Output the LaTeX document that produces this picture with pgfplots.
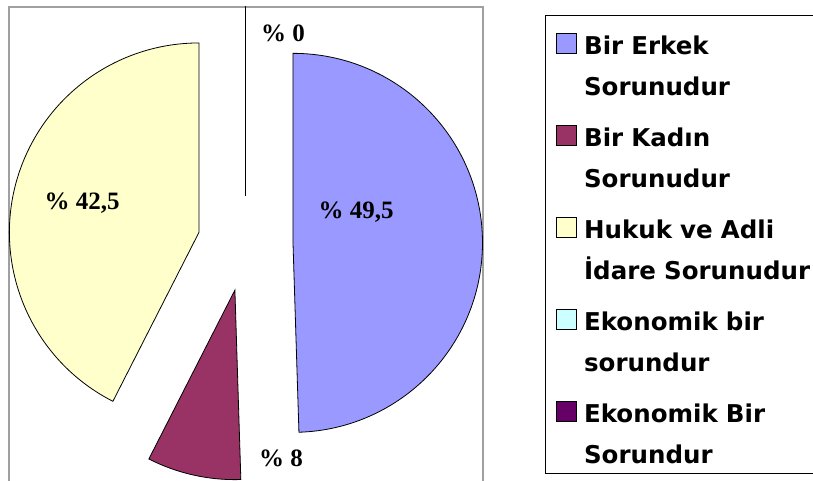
\documentclass[border=0pt]{standalone}
\usepackage{pgfplots}
\pgfplotsset{compat=1.18}
\usepackage{pgfplotstable}
\usepackage{fontspec}
\setmainfont{DejaVu Sans}
\newfontfamily\legfont{DejaVu Sans}
\newfontfamily\labfont{Liberation Serif}
\definecolor{slice0}{HTML}{9999FF}
\definecolor{slice1}{HTML}{993366}
\definecolor{slice2}{HTML}{FFFFCC}
\definecolor{slice3}{HTML}{CCFFFF}
\definecolor{slice4}{HTML}{660066}
\definecolor{framegray}{HTML}{A0A0A0}

\pgfplotstableread{
value
49.5
8
42.5
0
0
}\pietable

% pie geometry (in pt = px of the reference)
\def\pcx{245.3}\def\pcy{237.4}\def\prad{189.5}\def\pexp{47.7}

\def\cum{0}
\pgfplotsforeachungrouped \i in {0,...,4}{%
  \pgfplotstablegetelem{\i}{value}\of\pietable
  \let\val\pgfplotsretval
  \pgfmathsetmacro\sa{90-3.6*\cum}%
  \pgfmathsetmacro\ea{\sa-3.6*\val}%
  \pgfmathsetmacro\ma{(\sa+\ea)/2}%
  \pgfmathsetmacro\cx{\pcx+\pexp*cos(\ma)}%
  \pgfmathsetmacro\cy{\pcy+\pexp*sin(\ma)}%
  \expandafter\xdef\csname sa\i\endcsname{\sa}%
  \expandafter\xdef\csname ea\i\endcsname{\ea}%
  \expandafter\xdef\csname cx\i\endcsname{\cx}%
  \expandafter\xdef\csname cy\i\endcsname{\cy}%
  \pgfmathsetmacro\newcum{\cum+\val}%
  \xdef\cum{\newcum}%
}

\begin{document}
\begin{tikzpicture}
\useasboundingbox (0,0) rectangle (813pt,481pt);
\begin{axis}[
  at={(0,0)}, anchor=south west,
  width=813pt, height=481pt, scale only axis,
  xmin=0, xmax=813, ymin=0, ymax=481,
  hide axis, clip=false,
  legend image code/.code={\draw[#1] (0pt,-13pt) rectangle (20pt,7pt);},
  legend cell align=left,
  legend style={
    at={(545/813,1-15/481)}, anchor=north west,
    draw=black, line width=0.8pt, fill=white,
    inner xsep=11pt, inner ysep=10pt,
    row sep=12pt, column sep=7pt,
    font=\legfont\bfseries\fontsize{24.5}{29}\selectfont,
    nodes={text width=235pt, align=left, inner sep=0pt, text height=29pt, text depth=0pt},
  },
]
% plot area frame
\draw[framegray, line width=1.2pt] (axis cs:9,-10) -- (axis cs:9,474) -- (axis cs:483,474) -- (axis cs:483,-10);

\pgfplotsinvokeforeach{0,...,4}{%
  \draw[fill=slice#1, draw=black, line width=0.8pt, line join=miter]
    (axis cs:\csname cx#1\endcsname,\csname cy#1\endcsname)
    -- ++(\csname sa#1\endcsname:\prad pt)
    arc[start angle=\csname sa#1\endcsname, end angle=\csname ea#1\endcsname, radius=\prad pt]
    -- cycle;
}

\addlegendimage{fill=slice0, draw=black, line width=0.7pt}
\addlegendentry{Bir Erkek}
\addlegendimage{empty legend}
\addlegendentry[text depth=10pt]{Sorunudur}
\addlegendimage{fill=slice1, draw=black, line width=0.7pt}
\addlegendentry{Bir Kadın}
\addlegendimage{empty legend}
\addlegendentry[text depth=10pt]{Sorunudur}
\addlegendimage{fill=slice2, draw=black, line width=0.7pt}
\addlegendentry{Hukuk ve Adli}
\addlegendimage{empty legend}
\addlegendentry[text depth=10pt]{İdare Sorunudur}
\addlegendimage{fill=slice3, draw=black, line width=0.7pt}
\addlegendentry{Ekonomik bir}
\addlegendimage{empty legend}
\addlegendentry[text depth=10pt]{sorundur}
\addlegendimage{fill=slice4, draw=black, line width=0.7pt}
\addlegendentry{Ekonomik Bir}
\addlegendimage{empty legend}
\addlegendentry{Sorundur}

\begin{scope}[every node/.style={font=\labfont\bfseries\fontsize{25}{30}\selectfont, anchor=base, inner sep=0pt}]
\node at (axis cs:283,439) {\% 0};
\node at (axis cs:356,262) {\% 49,5};
\node at (axis cs:82,271) {\% 42,5};
\node at (axis cs:281,14) {\% 8};
\end{scope}
\end{axis}
\end{tikzpicture}
\end{document}
